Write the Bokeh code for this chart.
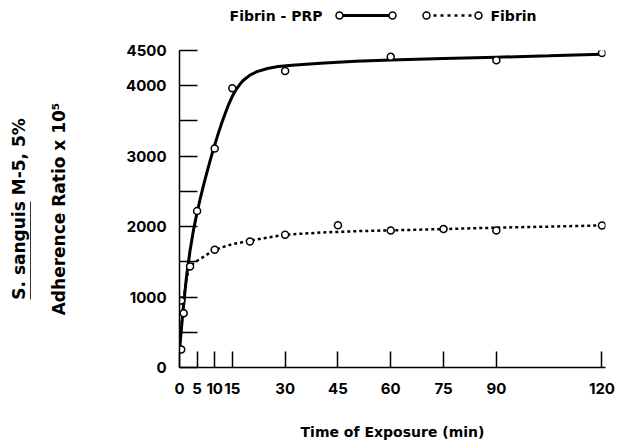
from bokeh.plotting import figure
from bokeh.models import Range1d, FixedTicker, LinearAxis
from bokeh.layouts import column
from bokeh.embed import file_html
from bokeh.resources import INLINE
from bokeh.core.properties import value

# ---------------- data ----------------
series_names = ["Fibrin - PRP", "Fibrin"]

prp_time = [0.5, 5, 10, 15, 30, 60, 90, 120]
prp_ratio = [950, 2220, 3110, 3965, 4210, 4410, 4360, 4465]

fib_time = [0.5, 1.2, 3, 10, 20, 30, 45, 60, 75, 90, 120]
fib_ratio = [256, 770, 1435, 1670, 1790, 1885, 2020, 1945, 1965, 1945, 2015]

# fitted curves as drawn in the picture
prp_fit_time = [0, 1, 2, 3, 4, 5, 6, 7, 8, 9, 10, 11, 12, 13, 14, 15, 16, 17, 18,
                20, 22, 25, 28, 32, 40, 50, 60, 75, 90, 105, 120]
prp_fit_ratio = [250, 800, 1300, 1660, 1960, 2200, 2420, 2620, 2810, 2990, 3160,
                 3320, 3470, 3610, 3740, 3850, 3940, 4010, 4070, 4150, 4200, 4245,
                 4272, 4292, 4320, 4348, 4365, 4385, 4405, 4425, 4446]

fib_fit_time = [0, 0.5, 1, 1.5, 2, 2.5, 3, 4, 5, 6, 8, 10, 12, 15, 20, 25, 30, 40,
                50, 60, 75, 90, 105, 120]
fib_fit_ratio = [200, 560, 860, 1090, 1260, 1370, 1435, 1480, 1515, 1545, 1610,
                 1665, 1705, 1750, 1800, 1845, 1885, 1915, 1935, 1947, 1965, 1985,
                 2000, 2017]

x_ticks = [0, 5, 10, 15, 30, 45, 60, 75, 90, 120]
y_ticks = [0, 500, 1000, 1500, 2000, 2500, 3000, 3500, 4000, 4500]
y_tick_labels = ["0", "", "1000", "", "2000", "", "3000", "", "4000", "4500"]

x_title = "Time of Exposure (min)"
y_title_1 = "S. sanguis M-5, 5%"
y_title_2 = "Adherence Ratio x 10\u2075"

FONT = "DejaVu Sans"
NUM_FONT = "Inter"
BL, BR = 179, 12   # frame borders shared by legend strip and plot
W = 617

# ---------------- legend strip (pixel coordinates) ----------------
lg = figure(width=W, height=30, x_range=Range1d(BL, W - BR), y_range=Range1d(30, 0),
            output_backend="svg", toolbar_location=None,
            min_border_left=BL, min_border_right=BR, min_border_top=0,
            min_border_bottom=0, x_axis_location=None, y_axis_location=None)
lg.outline_line_color = None
lg.xgrid.visible = False
lg.ygrid.visible = False
ly = 15
lg.text(x=[322], y=[ly], text=[series_names[0]], text_align="right",
        text_baseline="middle", text_font=value(FONT), text_font_style="bold",
        text_font_size="14px", text_color="black")
lg.line([339, 392], [ly, ly], line_width=3, line_color="black")
lg.scatter([339, 392], [ly, ly], marker="circle", size=7, fill_color="white",
           line_color="black", line_width=1.5)
lg.line([426, 478], [ly, ly], line_width=2.5, line_color="black", line_dash="3 4")
lg.scatter([426, 478], [ly, ly], marker="circle", size=7, fill_color="white",
           line_color="black", line_width=1.5)
lg.text(x=[490], y=[ly], text=[series_names[1]], text_align="left",
        text_baseline="middle", text_font=value(FONT), text_font_style="bold",
        text_font_size="14px", text_color="black")

# ---------------- main plot ----------------
p = figure(width=W, height=417, x_range=Range1d(0, 121), y_range=Range1d(0, 4500),
           output_backend="svg", toolbar_location=None,
           min_border_left=BL, min_border_right=BR, min_border_top=20,
           min_border_bottom=80)
p.outline_line_color = None
p.xgrid.visible = False
p.ygrid.visible = False

p.line(prp_fit_time, prp_fit_ratio, line_width=3, line_color="black")
p.line(fib_fit_time, fib_fit_ratio, line_width=2.5, line_color="black", line_dash="3 3")
p.scatter(prp_time, prp_ratio, marker="circle", size=7, fill_color="white",
          line_color="black", line_width=1.5)
p.scatter(fib_time, fib_ratio, marker="circle", size=7, fill_color="white",
          line_color="black", line_width=1.5)

xa = p.xaxis[0]
xa.ticker = FixedTicker(ticks=x_ticks)
xa.minor_tick_line_color = None
xa.major_tick_in = 16
xa.major_tick_out = 0
xa.axis_line_width = 1.5
xa.major_tick_line_width = 1.5
xa.major_label_standoff = 15
xa.major_label_text_font = NUM_FONT
xa.major_label_text_font_style = "bold"
xa.major_label_text_font_size = "15px"
xa.major_label_text_color = "black"
xa.axis_label = x_title
xa.axis_label_text_font = FONT
xa.axis_label_text_font_style = "bold"
xa.axis_label_text_font_size = "14px"
xa.axis_label_text_color = "black"
xa.axis_label_standoff = 27

ya = p.yaxis[0]
ya.ticker = FixedTicker(ticks=y_ticks)
ya.major_label_overrides = {t: l for t, l in zip(y_ticks, y_tick_labels)}
ya.minor_tick_line_color = None
ya.major_tick_in = 18
ya.major_tick_out = 0
ya.axis_line_width = 1.5
ya.major_tick_line_width = 1.5
ya.major_label_standoff = 13
ya.major_label_text_font = NUM_FONT
ya.major_label_text_font_style = "bold"
ya.major_label_text_font_size = "15px"
ya.major_label_text_color = "black"


def title_axis(**kw):
    opts = dict(ticker=FixedTicker(ticks=[]), minor_tick_line_color=None,
                major_tick_in=0, major_tick_out=0, axis_line_color=None,
                axis_label_text_font=FONT, axis_label_text_font_style="bold",
                axis_label_text_font_size="17px", axis_label_text_color="black")
    opts.update(kw)
    return LinearAxis(**opts)


# second title line (closer to the frame)
p.add_layout(title_axis(axis_label=y_title_2, axis_label_standoff=55), "left")
# blank spacer between the two title lines (one white, unlabeled tick)
p.add_layout(title_axis(ticker=FixedTicker(ticks=[0]), major_tick_out=15,
                        major_tick_line_color="white", major_label_standoff=0,
                        major_label_overrides={0: ""}), "left")
# first title line; its axis line (limited by bounds) underlines "S. sanguis"
p.add_layout(title_axis(axis_label=y_title_1, axis_label_standoff=2,
                        axis_line_color="#333333", axis_line_width=1,
                        bounds=(965, 2361)), "left")

layout = column(lg, p)
open("out.html", "w").write(file_html(layout, INLINE))
